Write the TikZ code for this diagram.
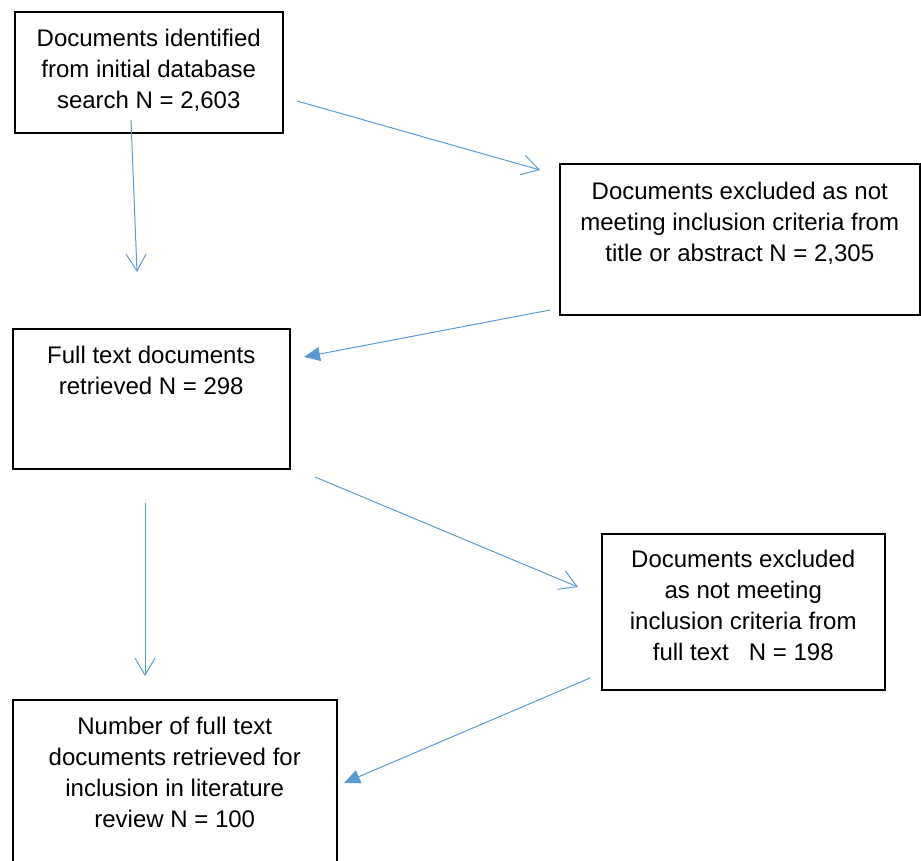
\documentclass[tikz,border=0pt]{standalone}
\usepackage{fontspec}
\setmainfont{Liberation Sans}
\usetikzlibrary{positioning,arrows.meta}
\definecolor{arrowblue}{RGB}{91,155,213}

\begin{document}
\begin{tikzpicture}[x=1pt,y=-1pt,
    box/.style={draw=black,line width=1.5pt,anchor=north west,inner sep=0pt},
    txt/.style={anchor=north,align=center,inner sep=0pt,
      font=\fontsize{24}{31}\selectfont},
    openarr/.style={draw=arrowblue,line width=1pt,-{Straight Barb[length=17pt,width=20pt]}},
    fillarr/.style={draw=arrowblue,line width=1pt,-{Triangle[length=16pt,width=14pt]}}]
        \clip (0,0) rectangle (921,860);
        % boxes
        \node[box,minimum width=268pt,minimum height=121pt] (ident) at (14,11) {};
        \node[box,minimum width=360pt,minimum height=151pt] (excla) at (559,163) {};
        \node[box,minimum width=277pt,minimum height=140pt] (full) at (12,328) {};
        \node[box,minimum width=283pt,minimum height=156pt] (exclb) at (601,533) {};
        \node[box,minimum width=324pt,minimum height=200pt] (final) at (12,699) {};
        % texts
        \node[txt,below=18pt of ident.north] (identtxt)
          {Documents identified\\from initial database\\search N = 2,603};
        \node[txt,below=19pt of excla.north] (exclatxt)
          {Documents excluded as not\\meeting inclusion criteria from\\title or abstract N = 2,305};
        \node[txt,below=18pt of full.north] (fulltxt)
          {Full text documents\\retrieved N = 298};
        \node[txt,below=17pt of exclb.north] (exclbtxt)
          {Documents excluded\\as not meeting\\inclusion criteria from\\full text\ \ \ N = 198};
        \node[txt,below=18pt of final.north] (finaltxt)
          {Number of full text\\documents retrieved for\\inclusion in literature\\review N = 100};
        % arrow ends
        \coordinate (aone) at (131,120);   \coordinate (bone) at (137,272);
        \coordinate (atwo) at (297,101);   \coordinate (btwo) at (540,170);
        \coordinate (athree) at (550,310); \coordinate (bthree) at (304,357);
        \coordinate (afour) at (145,503);  \coordinate (bfour) at (145,676);
        \coordinate (afive) at (315,477);  \coordinate (bfive) at (578,587);
        \coordinate (asix) at (590,678);   \coordinate (bsix) at (344,783);
        \draw[openarr] (aone) -- (bone);
        \draw[openarr] (atwo) -- (btwo);
        \draw[fillarr] (athree) -- (bthree);
        \draw[openarr] (afour) -- (bfour);
        \draw[openarr] (afive) -- (bfive);
        \draw[fillarr] (asix) -- (bsix);

      \end{tikzpicture}
\end{document}
